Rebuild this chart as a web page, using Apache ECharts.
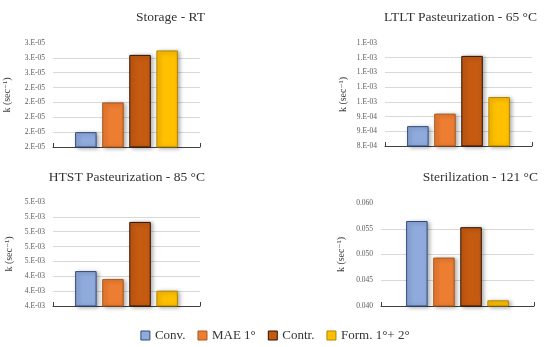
<!DOCTYPE html>
<html>
<head>
<meta charset="utf-8">
<script src="https://cdn.jsdelivr.net/npm/echarts@6/dist/echarts.min.js"></script>
<style>
html,body{margin:0;padding:0;background:#fff;}
#c{width:550px;height:347px;}
</style>
</head>
<body>
<div id="c"></div>
<script>
// ---- data ----
const seriesNames = ['Conv.', 'MAE 1°', 'Contr.', 'Form. 1°+ 2°'];
const panelTitles = ['Storage - RT', 'LTLT Pasteurization - 65 °C', 'HTST Pasteurization - 85 °C', 'Sterilization - 121 °C'];
// values per panel, in order of seriesNames
const storageRT = [2.10e-5, 2.30e-5, 2.62e-5, 2.65e-5];
const ltlt65 = [8.94e-4, 9.28e-4, 1.085e-3, 9.73e-4];
const htst85 = [4.435e-3, 4.381e-3, 4.766e-3, 4.303e-3];
const steril121 = [0.0565, 0.0494, 0.0553, 0.0411];
// axis ranges
const storageAxis = {min: 2.0e-5, max: 2.7e-5, interval: 1e-6};
const ltltAxis = {min: 8.4e-4, max: 1.12e-3, interval: 4e-5};
const htstAxis = {min: 4.2e-3, max: 4.9e-3, interval: 1e-4};
const sterilAxis = {min: 0.040, max: 0.060, interval: 0.005};
// tick labels, bottom to top
const storageTicks = ['2.E-05','2.E-05','2.E-05','2.E-05','2.E-05','3.E-05','3.E-05','3.E-05'];
const ltltTicks = ['8.E-04','9.E-04','9.E-04','1.E-03','1.E-03','1.E-03','1.E-03','1.E-03'];
const htstTicks = ['4.E-03','4.E-03','4.E-03','5.E-03','5.E-03','5.E-03','5.E-03','5.E-03'];
const sterilTicks = ['0.040','0.045','0.050','0.055','0.060'];
const yName = 'k (sec\u207B\u00B9)';

// ---- styling ----
const FONT = '"Liberation Serif", "DejaVu Serif", serif';
const fills = ['#8FAADC', '#ED7D31', '#C55A11', '#FFC000'];
const borders = ['#2F4A7A', '#A9561E', '#2A1204', '#B08400'];

const panels = [
  {vals: storageRT, ax: storageAxis, ticks: storageTicks, grid: {left: 53, top: 43, width: 147, height: 104}, nameGap: 41, title: {right: 340, top: 5}},
  {vals: ltlt65, ax: ltltAxis, ticks: ltltTicks, grid: {left: 385, top: 43, width: 147, height: 103}, nameGap: 37, title: {right: 8, top: 5}},
  {vals: htst85, ax: htstAxis, ticks: htstTicks, grid: {left: 53, top: 202, width: 147, height: 104}, nameGap: 39, title: {right: 340, top: 165}},
  {vals: steril121, ax: sterilAxis, ticks: sterilTicks, grid: {left: 381, top: 203, width: 153, height: 103}, nameGap: 35, title: {right: 7, top: 165}}
];

const option = {
  backgroundColor: '#fff',
  animation: false,
  title: panels.map((p, i) => ({
    text: panelTitles[i], right: p.title.right, top: p.title.top,
    textStyle: {fontFamily: FONT, fontSize: 13.5, fontWeight: 'normal', color: '#333'}
  })),
  legend: {
    data: seriesNames, bottom: 0, left: 'center', itemWidth: 9, itemHeight: 9, itemGap: 12,
    icon: 'rect',
    textStyle: {fontFamily: FONT, fontSize: 13, color: '#333'},
    itemStyle: {shadowBlur: 0, shadowOffsetX: 0, shadowOffsetY: 0, borderWidth: 1}
  },
  grid: panels.map(p => Object.assign({containLabel: false}, p.grid)),
  xAxis: panels.map((p, i) => ({
    type: 'category', gridIndex: i, data: [''],
    axisLine: {lineStyle: {color: '#404040', width: 1}},
    axisTick: {show: true, inside: true, length: 4, lineStyle: {color: '#404040'}},
    axisLabel: {show: false}
  })),
  yAxis: panels.map((p, i) => ({
    type: 'value', gridIndex: i, min: p.ax.min, max: p.ax.max, interval: p.ax.interval,
    name: yName, nameLocation: 'middle', nameGap: p.nameGap,
    nameTextStyle: {fontFamily: FONT, fontSize: 10, color: '#404040'},
    axisLine: {show: false}, axisTick: {show: false},
    splitLine: {show: true, showMaxLine: false, lineStyle: {color: '#D9D9D9', width: 1}},
    axisLabel: {
      fontFamily: FONT, fontSize: 7.5, color: '#595959', margin: 8,
      formatter: v => p.ticks[Math.round((v - p.ax.min) / p.ax.interval)] || ''
    }
  })),
  series: []
};

panels.forEach((p, gi) => {
  seriesNames.forEach((name, si) => {
    option.series.push({
      type: 'bar', name: name, xAxisIndex: gi, yAxisIndex: gi,
      data: [p.vals[si]],
      barWidth: 21.5, barGap: '26%',
      itemStyle: {
        color: fills[si], borderColor: borders[si], borderWidth: 1,
        shadowColor: 'rgba(0,0,0,0.35)', shadowBlur: 4, shadowOffsetX: 2, shadowOffsetY: 1
      },
      emphasis: {disabled: true}
    });
  });
});

const chart = echarts.init(document.getElementById('c'), null, {renderer: 'canvas'});
chart.setOption(option);
</script>
</body>
</html>
